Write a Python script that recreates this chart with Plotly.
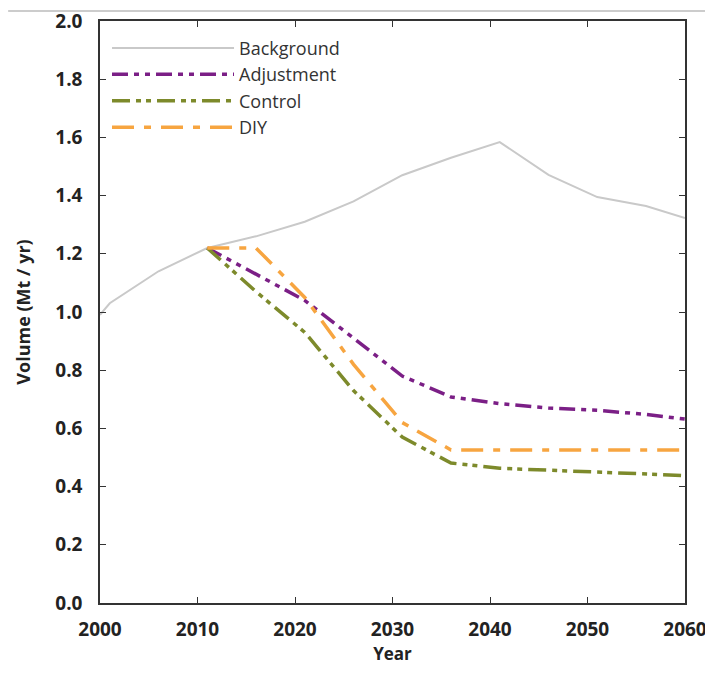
import plotly.graph_objects as go

years_bg = [2000, 2001, 2006, 2011, 2016, 2021, 2026, 2031, 2036, 2041, 2046, 2051, 2056, 2060]
background = [0.99, 1.03, 1.14, 1.22, 1.26, 1.31, 1.38, 1.47, 1.53, 1.584, 1.471, 1.395, 1.364, 1.323]

years_sc = [2011, 2016, 2021, 2026, 2031, 2036, 2041, 2046, 2051, 2056, 2060]
adjustment = [1.22, 1.13, 1.04, 0.91, 0.78, 0.708, 0.685, 0.67, 0.662, 0.648, 0.632]
control = [1.22, 1.07, 0.93, 0.73, 0.57, 0.481, 0.463, 0.456, 0.449, 0.443, 0.438]
diy = [1.22, 1.22, 1.05, 0.82, 0.62, 0.526, 0.526, 0.526, 0.526, 0.526, 0.526]

x_ticks = [2000, 2010, 2020, 2030, 2040, 2050, 2060]
y_ticks = [0.0, 0.2, 0.4, 0.6, 0.8, 1.0, 1.2, 1.4, 1.6, 1.8, 2.0]

fig = go.Figure()
fig.add_trace(go.Scatter(x=years_bg, y=background, mode="lines", name="Background",
                         line=dict(color="#c9c9c9", width=2)))
fig.add_trace(go.Scatter(x=years_sc, y=adjustment, mode="lines", name="Adjustment",
                         line=dict(color="#7b1f86", width=3.5, dash="16px,6px,5px,6px,5px,6px")))
fig.add_trace(go.Scatter(x=years_sc, y=control, mode="lines", name="Control",
                         line=dict(color="#7d8a2b", width=3.5, dash="18px,6px,5px,5px,5px,6px")))
fig.add_trace(go.Scatter(x=years_sc, y=diy, mode="lines", name="DIY",
                         line=dict(color="#f7a540", width=3.5, dash="22px,10px,7px,10px")))

axis_common = dict(showline=True, linecolor="#333333", linewidth=1.5, mirror="ticks",
                   ticks="inside", ticklen=6, tickcolor="#333333", showgrid=False, zeroline=False,
                   automargin=False, ticklabeloverflow="allow",
                   tickfont=dict(family="Open Sans", size=19, color="#222222", weight="bold"))

fig.update_xaxes(range=[2000, 2060], tickvals=x_ticks,
                 ticktext=[str(v) for v in x_ticks], ticklabelstandoff=8,
                 title=dict(text="Year", font=dict(family="Open Sans", size=17, color="#222222", weight="bold"),
                            standoff=6),
                 **axis_common)
fig.update_yaxes(range=[0, 2.0], tickvals=y_ticks,
                 ticktext=[f"{v:.1f}" for v in y_ticks], ticklabelstandoff=12,
                 title=dict(text="Volume (Mt / yr)", font=dict(family="Open Sans", size=18, color="#222222", weight="bold"),
                            standoff=20),
                 **axis_common)

fig.add_shape(type="line", xref="paper", yref="paper", x0=-0.157, x1=1.05, y0=1.0172, y1=1.0172,
              line=dict(color="#cccccc", width=2))

fig.update_layout(
    width=713, height=673,
    margin=dict(l=92, r=36, t=13, b=78),
    plot_bgcolor="white", paper_bgcolor="white",
    showlegend=True,
    legend=dict(x=0.012, y=0.985, xanchor="left", yanchor="top", bgcolor="rgba(0,0,0,0)",
                itemwidth=122, tracegroupgap=0,
                font=dict(family="Open Sans", size=18, color="#333333")),
)

fig.write_html("out.html")
